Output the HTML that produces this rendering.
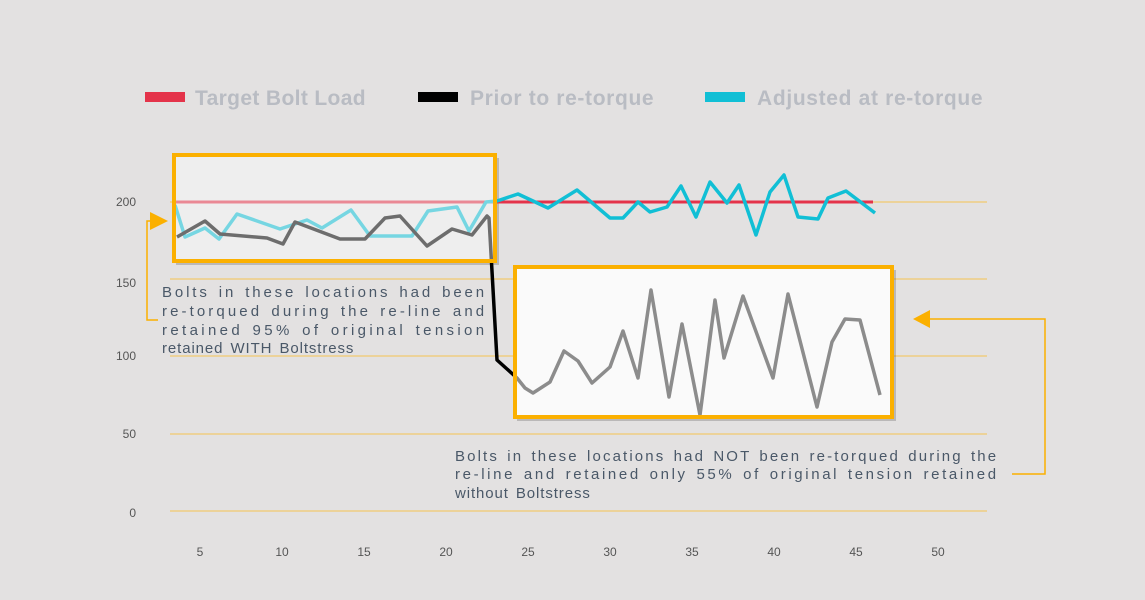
<!DOCTYPE html>
<html><head><meta charset="utf-8"><style>
body{margin:0;background:#e3e1e1;}
svg{display:block;font-family:"Liberation Sans",sans-serif;}
</style></head><body>
<svg width="1145" height="600" viewBox="0 0 1145 600">
<rect width="1145" height="600" fill="#e3e1e1"/>
<g stroke="#f5c451" stroke-width="1">
<line x1="170" y1="202" x2="987" y2="202"/><line x1="170" y1="279" x2="987" y2="279"/>
<line x1="170" y1="356" x2="987" y2="356"/><line x1="170" y1="434" x2="987" y2="434"/>
<line x1="170" y1="511" x2="987" y2="511"/></g>
<g font-size="12" fill="#555" text-anchor="end">
<text x="136" y="206">200</text><text x="136" y="287">150</text><text x="136" y="360">100</text><text x="136" y="438">50</text><text x="136" y="517">0</text></g>
<g font-size="12" fill="#555" text-anchor="middle">
<text x="200" y="556">5</text><text x="282" y="556">10</text><text x="364" y="556">15</text><text x="446" y="556">20</text><text x="528" y="556">25</text><text x="610" y="556">30</text><text x="692" y="556">35</text><text x="774" y="556">40</text><text x="856" y="556">45</text><text x="938" y="556">50</text></g>
<g font-size="21" font-weight="bold" fill="#b9bcc3" letter-spacing="0.4">
<rect x="145" y="92" width="40" height="10" fill="#e4334a"/><text x="195" y="105" textLength="171">Target Bolt Load</text>
<rect x="418" y="92" width="40" height="10" fill="#000"/><text x="470" y="105" textLength="184">Prior to re-torque</text>
<rect x="705" y="92" width="40" height="10" fill="#11bfd5"/><text x="757" y="105" textLength="226">Adjusted at re-torque</text></g>
<rect x="176" y="158" width="323" height="107" fill="#000" opacity="0.18"/>
<rect x="517" y="270" width="379" height="151" fill="#000" opacity="0.18"/>
<rect x="174" y="155" width="321" height="106" fill="#ececec"/>
<rect x="515" y="267" width="377" height="150" fill="#f4f3f3"/>
<line x1="175" y1="202" x2="873" y2="202" stroke="#e4334a" stroke-width="3"/>
<polyline fill="none" stroke="#11bfd5" stroke-width="3.5" stroke-linejoin="round" points="175,205 185,237 205,228 219,239 237,214 280,229 307,220 322,228 351,210 370,236 412,236 428,211 457,207 469,231 486,202 497,201 518,194 548,208 577,190 610,218 623,218 638,202 650,212 667,207 681,186 696,217 710,182 727,203 739,185 756,235 770,192 784,175 798,217 818,219 828,198 846,191 875,213"/>
<polyline fill="none" stroke="#000" stroke-width="3.5" stroke-linejoin="round" points="177,237 205,221 220,234 267,238 283,244 295,222 340,239 365,239 385,218 400,216 427,246 452,229 472,235 487,216 489,218 497,360 517,378 525,388 533,393 550,382 564,351 578,361 592,383 610,367 623,331 638,378 651,290 669,397 682,324 700,415 715,300 724,358 743,296 773,378 788,294 817,407 832,342 845,319 860,320 880,395"/>
<rect x="174" y="155" width="321" height="106" fill="#f2f2f2" fill-opacity="0.45" stroke="#fbb000" stroke-width="4"/>
<rect x="515" y="267" width="377" height="150" fill="#ffffff" fill-opacity="0.55" stroke="#fbb000" stroke-width="4"/>
<g fill="none" stroke="#fbb000" stroke-width="1.5">
<polyline points="160,221 147,221 147,320 158,320"/>
<polyline points="928,319 1045,319 1045,474 1012,474"/></g>
<polygon points="150,212 168,221 150,230" fill="#fbb000"/>
<polygon points="930,310 913,319 930,328" fill="#fbb000"/>
<g font-size="15" fill="#4a5868" letter-spacing="0.9" word-spacing="2">
<text x="162" y="297" textLength="323" lengthAdjust="spacing">Bolts in these locations had been</text>
<text x="162" y="316" textLength="323" lengthAdjust="spacing">re-torqued during the re-line and</text>
<text x="162" y="335" textLength="323" lengthAdjust="spacing">retained 95% of original tension</text>
<text x="162" y="353">retained WITH Boltstress</text>
<text x="455" y="461" textLength="542" lengthAdjust="spacing">Bolts in these locations had NOT been re-torqued during the</text>
<text x="455" y="479" textLength="542" lengthAdjust="spacing">re-line and retained only 55% of original tension retained</text>
<text x="455" y="498">without Boltstress</text></g>
</svg>
</body></html>
